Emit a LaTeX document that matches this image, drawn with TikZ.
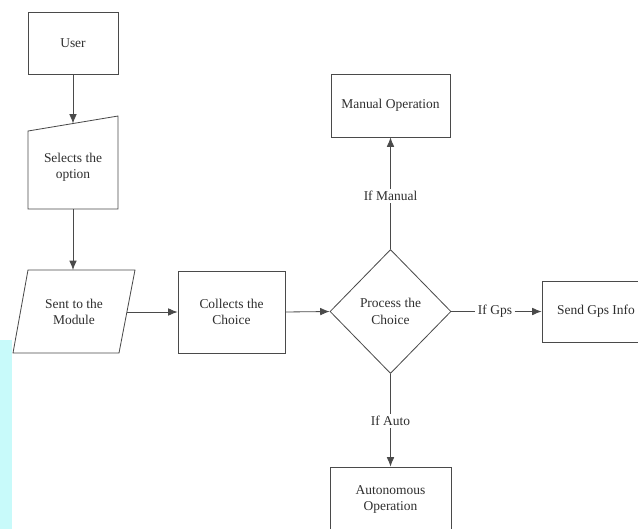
\documentclass[tikz,border=0pt]{standalone}
\usepackage{fontspec}
\setmainfont{Liberation Serif}
\usetikzlibrary{arrows.meta,shapes.geometric}
\definecolor{linec}{HTML}{4A4A4A}
\definecolor{textc}{HTML}{2E2E2E}
\definecolor{stripc}{HTML}{C8FAFA}
\begin{document}
\begin{tikzpicture}[x=0.03cm,y=-0.03cm,
  font=\rmfamily\fontsize{11.5}{14}\selectfont, text=textc,
  boxnode/.style 2 args={draw=linec, line width=0.7pt, rectangle, inner sep=0pt, align=center,
    minimum width={#1*0.03cm}, minimum height={#2*0.03cm}},
  txtnode/.style={inner sep=0pt, align=center},
  labnode/.style={inner sep=2pt, align=center},
  plain/.style={draw=linec, line width=0.7pt},
  conn/.style={draw=linec, line width=0.7pt, -{Latex[length=8pt,width=6.5pt]}},
  shapeline/.style={draw=linec, line width=0.7pt}
]
\useasboundingbox (0,0) rectangle (638,529);
\fill[stripc] (0,340) rectangle (12,529);

% User
\node[boxnode={90}{62}] (user) at (73,43) {User};

% Selects the option (manual input)
\draw[shapeline] (28,131) -- (118,116) -- (118,209) -- (28,209) -- cycle;
\node[txtnode] (sel) at (73,167) {Selects the\\option};
\coordinate (selin) at (73,123.5);
\coordinate (selout) at (73,209);

% Sent to the Module (parallelogram)
\draw[shapeline] (28,270) -- (135,270) -- (119,353) -- (13,353) -- cycle;
\node[txtnode] (sent) at (74,312) {Sent to the\\Module};
\coordinate (sentin) at (73,270);
\coordinate (sentout) at (127,312);

% Collects the Choice
\node[boxnode={107}{82}] (coll) at (231.5,312) {Collects the\\Choice};

% Diamond
\node[draw=linec, line width=0.7pt, diamond, inner sep=0pt, aspect=1,
  minimum width={121*0.03cm}, minimum height={124*0.03cm}, align=center] (proc) at (390.5,311.5) {Process the\\Choice};

% Manual
\node[boxnode={119}{63}] (man) at (390.5,105.5) {Manual Operation};
% Auto
\node[boxnode={121}{65}] (auto) at (390.5,499.5) {Autonomous\\Operation};
% Gps
\node[boxnode={108}{61}] (gps) at (596,311.5) {Send Gps Info};

% labels
\node[labnode] (lman) at (390.5,196) {If Manual};
\node[labnode] (lauto) at (390.5,421) {If Auto};
\node[labnode] (lgps) at (495,311.5) {If Gps};

% connectors
\draw[conn] (user.south) -- (selin);
\draw[conn] (selout) -- (sentin);
\draw[conn] (sentout) -- (coll.west);
\draw[conn] (coll.east) -- (proc.west);
\draw[plain] (proc.north) -- (lman.south);
\draw[conn] (lman.north) -- (man.south);
\draw[plain] (proc.south) -- (lauto.north);
\draw[conn] (lauto.south) -- (auto.north);
\draw[plain] (proc.east) -- (lgps.west);
\draw[conn] (lgps.east) -- (gps.west);
\end{tikzpicture}
\end{document}
